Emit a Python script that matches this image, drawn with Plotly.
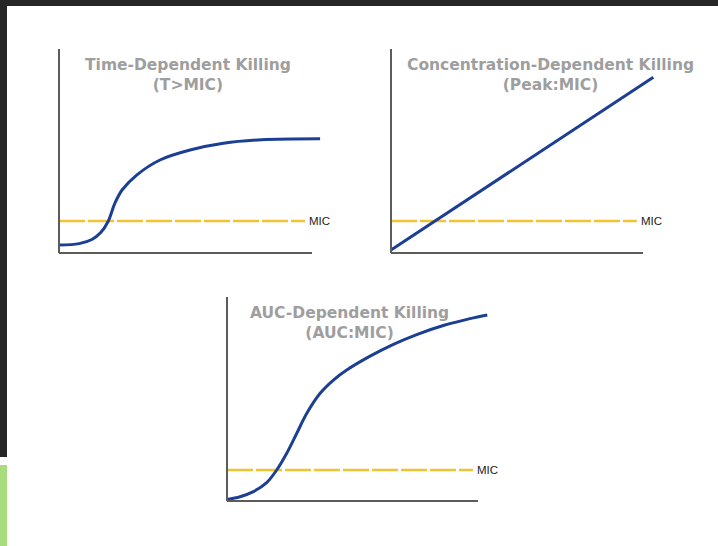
import plotly.graph_objects as go

# ---------------- data ----------------
time_x = [0, 8, 13, 16.5, 19.5, 22.1, 25.0, 30.7, 39.9, 51.8, 65.0, 80.0, 103.2]
time_y = [3.9, 4.6, 6.6, 10.0, 15.7, 24.4, 31.0, 38.2, 45.6, 50.5, 53.8, 55.5, 56.0]

conc_x = [0, 104.1]
conc_y = [1.5, 86.1]

auc_x = [0, 5.2, 10.5, 15.8, 19.8, 23.8, 27.8, 31.8, 37.1, 42.4, 47.7, 57.0, 66.3, 75.6, 86.2, 96.8, 103.7]
auc_y = [0.8, 2.1, 4.6, 9.0, 15.2, 23.4, 33.2, 43.0, 52.8, 59.3, 64.2, 71.0, 76.8, 81.6, 86.0, 89.4, 91.2]

mic_levels = [15.7, 15.7, 15.2]
mic_ends = [97.2, 97.6, 98.0]
axis_len = [100, 100, 100]

titles = ["Time-Dependent Killing<br>(T>MIC)",
          "Concentration-Dependent Killing<br>(Peak:MIC)",
          "AUC-Dependent Killing<br>(AUC:MIC)"]
title_x = [51, 63.1, 49]
x_label = "Rate of Bacterial Killing"
y_label = "Drug Concentration"
mic_label = "MIC"

# ---------------- layout geometry ----------------
W, H = 718, 546
# origin px (x, y), px per unit (x, y)
panels = [(59, 253, 2.53, 2.04), (391, 253, 2.52, 2.04), (227, 501, 2.51, 2.04)]
XR = [-3, 106]
YR = [-5, 106]

BLUE = "#1c3f94"
YELLOW = "#f0c332"
AXC = "#5c5c5c"
TITLEC = "#9e9e9e"
FONT = "Liberation Sans, Arial, sans-serif"
TFONT = "DejaVu Sans, sans-serif"

fig = go.Figure()
curves = [(time_x, time_y), (conc_x, conc_y), (auc_x, auc_y)]
shapes = []
annotations = []
layout = {}

for i, ((ox, oy, sx, sy), (cx, cy)) in enumerate(zip(panels, curves)):
    n = "" if i == 0 else str(i + 1)
    xa, ya = "x" + n, "y" + n
    x0p = (ox + XR[0] * sx) / W
    x1p = (ox + XR[1] * sx) / W
    y0p = 1 - (oy - YR[0] * sy) / H
    y1p = 1 - (oy - YR[1] * sy) / H
    layout["xaxis" + n] = dict(domain=[x0p, x1p], range=XR, visible=False, anchor=ya)
    layout["yaxis" + n] = dict(domain=[y0p, y1p], range=YR, visible=False, anchor=xa)

    # MIC dashed line
    fig.add_trace(go.Scatter(x=[0, mic_ends[i]], y=[mic_levels[i], mic_levels[i]], mode="lines",
                             line=dict(color=YELLOW, width=2.5, dash="26px,3px"),
                             xaxis=xa, yaxis=ya, hoverinfo="skip"))
    # curve
    fig.add_trace(go.Scatter(x=cx, y=cy, mode="lines",
                             line=dict(color=BLUE, width=3, shape="spline", smoothing=1.0),
                             xaxis=xa, yaxis=ya, hoverinfo="skip"))
    # axis lines
    shapes.append(dict(type="line", xref=xa, yref=ya, x0=0, y0=0, x1=axis_len[i], y1=0,
                       line=dict(color=AXC, width=2)))
    shapes.append(dict(type="line", xref=xa, yref=ya, x0=0, y0=0, x1=0, y1=axis_len[i],
                       line=dict(color=AXC, width=2)))
    # titles
    annotations.append(dict(xref=xa, yref=ya, x=title_x[i], y=100 - 2.5, text="<b>" + titles[i] + "</b>",
                            showarrow=False, xanchor="center", yanchor="top", align="center",
                            font=dict(family=TFONT, size=15.5, color=TITLEC)))
    # x label
    annotations.append(dict(xref=xa, yref=ya, x=50, y=-6.9, text=x_label, showarrow=False,
                            xanchor="center", yanchor="middle",
                            font=dict(family=FONT, size=11.5, color="#222")))
    # y label
    annotations.append(dict(xref=xa, yref=ya, x=-4.3, y=50, text=y_label, showarrow=False,
                            textangle=-90, xanchor="center", yanchor="middle",
                            font=dict(family=FONT, size=11.5, color="#222")))
    # MIC label
    annotations.append(dict(xref=xa, yref=ya, x=mic_ends[i] + 1, y=mic_levels[i], text=mic_label,
                            showarrow=False, xanchor="left", yanchor="middle",
                            font=dict(family=FONT, size=11.5, color="#222")))

# frame decorations (dark top band, left strip, green tab)
shapes += [
    dict(type="rect", xref="paper", yref="paper", x0=0, x1=1, y0=1 - 6 / H, y1=1,
         fillcolor="#262626", line=dict(width=0), layer="below"),
    dict(type="rect", xref="paper", yref="paper", x0=0, x1=7 / W, y0=1 - 457 / H, y1=1,
         fillcolor="#262626", line=dict(width=0), layer="below"),
    dict(type="rect", xref="paper", yref="paper", x0=0, x1=7 / W, y0=0, y1=1 - 465 / H,
         fillcolor="#a9dc7c", line=dict(width=0), layer="below"),
]

fig.update_layout(width=W, height=H, margin=dict(l=0, r=0, t=0, b=0),
                  paper_bgcolor="white", plot_bgcolor="rgba(0,0,0,0)",
                  showlegend=False, shapes=shapes, annotations=annotations, **layout)

fig.write_html("out.html", config={"displayModeBar": False},
               post_script="document.body.style.margin='0';document.body.style.overflow='hidden';")
